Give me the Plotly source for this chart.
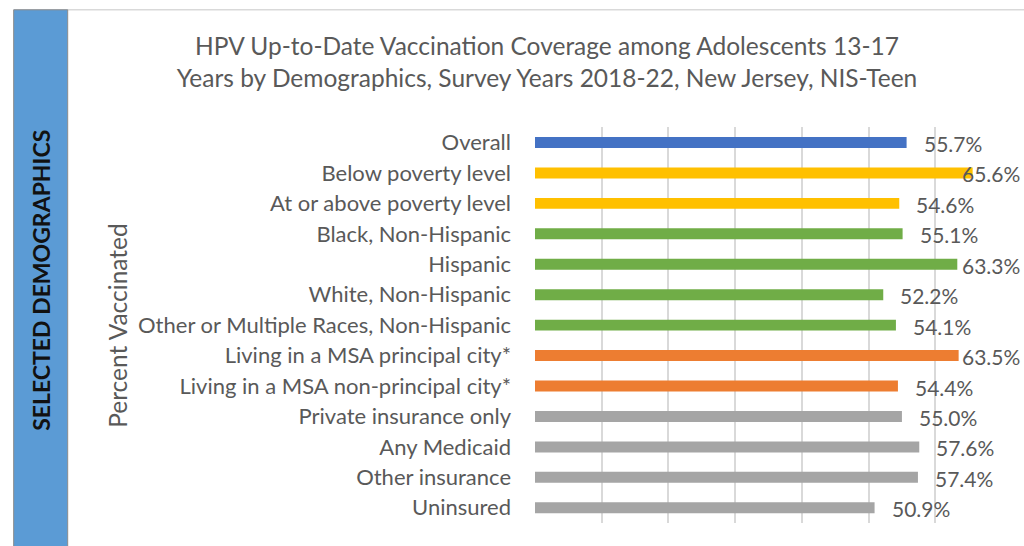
import plotly.graph_objects as go

categories = [
    "Overall",
    "Below poverty level",
    "At or above poverty level",
    "Black, Non-Hispanic",
    "Hispanic",
    "White, Non-Hispanic",
    "Other or Multiple Races, Non-Hispanic",
    "Living in a MSA principal city*",
    "Living in a MSA non-principal city*",
    "Private insurance only",
    "Any Medicaid",
    "Other insurance",
    "Uninsured",
]
values = [55.7, 65.6, 54.6, 55.1, 63.3, 52.2, 54.1, 63.5, 54.4, 55.0, 57.6, 57.4, 50.9]
labels = ["55.7%", "65.6%", "54.6%", "55.1%", "63.3%", "52.2%", "54.1%",
          "63.5%", "54.4%", "55.0%", "57.6%", "57.4%", "50.9%"]
groups = ["overall", "poverty", "poverty", "race", "race", "race", "race",
          "msa", "msa", "ins", "ins", "ins", "ins"]
group_colors = {"overall": "#4472C4", "poverty": "#FFC000", "race": "#70AD47",
                "msa": "#ED7D31", "ins": "#A5A5A5"}

title_text = ("HPV Up-to-Date Vaccination Coverage among Adolescents 13-17<br>"
              "Years by Demographics, Survey Years 2018-22, New Jersey, NIS-Teen")

FW, FH = 1024, 546
L, R, T, B = 535, 1001.7, 126.75, 523
FONT = "Lato"
TXT = "#595959"

def px_x(px):
    return (px - L) / (R - L)

def px_y(py):
    return (B - py) / (B - T)

fig = go.Figure()
fig.add_trace(go.Bar(
    x=values, y=categories, orientation="h",
    marker=dict(color=[group_colors[g] for g in groups], line=dict(width=0)),
    width=0.36, hoverinfo="skip",
))

annotations = []
for v, c, lab in zip(values, categories, labels):
    bar_end_px = L + v / 70 * (R - L)
    if bar_end_px + 16 + 62 > FW - 2:
        annotations.append(dict(x=px_x(FW - 2), xref="paper", y=c, yref="y",
                                text=lab, showarrow=False, xanchor="right",
                                yshift=-1, font=dict(size=21, color=TXT, family=FONT)))
    else:
        annotations.append(dict(x=v, xref="x", y=c, yref="y", text=lab,
                                showarrow=False, xanchor="left", xshift=15,
                                yshift=-1, font=dict(size=21, color=TXT, family=FONT)))

annotations.append(dict(x=px_x(41), y=px_y(280), xref="paper", yref="paper",
                        xanchor="center", yanchor="middle",
                        text="<b>SELECTED DEMOGRAPHICS</b>", textangle=-90,
                        showarrow=False, font=dict(size=23, color="#111111", family=FONT)))
annotations.append(dict(x=px_x(117), y=px_y(325), xref="paper", yref="paper",
                        xanchor="center", yanchor="middle",
                        text="Percent Vaccinated", textangle=-90,
                        showarrow=False, font=dict(size=24.5, color=TXT, family=FONT)))

shapes = [
    dict(type="line", xref="paper", yref="paper", x0=px_x(14), x1=px_x(FW),
         y0=px_y(9.5), y1=px_y(9.5), line=dict(color="#D9D9D9", width=1.5)),
    dict(type="rect", xref="paper", yref="paper", x0=px_x(14), x1=px_x(68),
         y0=px_y(9.5), y1=px_y(FH + 2), fillcolor="#5B9BD5",
         line=dict(color="#8C8C8C", width=1)),
]

fig.update_layout(
    width=FW, height=FH,
    margin=dict(l=L, r=FW - R, t=T, b=FH - B, pad=0),
    paper_bgcolor="white", plot_bgcolor="white",
    showlegend=False,
    bargap=0.64,
    title=dict(text=title_text, x=547 / FW, xanchor="center", y=1 - 55 / FH,
               yanchor="top", font=dict(size=24.5, color=TXT, family=FONT)),
    xaxis=dict(range=[0, 70], dtick=10, showticklabels=False, showgrid=True,
               gridcolor="#D9D9D9", gridwidth=2, zeroline=False, fixedrange=True),
    yaxis=dict(autorange="reversed", showgrid=False, ticks="", ticklabelstandoff=23,
               tickfont=dict(size=22, color=TXT, family=FONT), fixedrange=True),
    annotations=annotations,
    shapes=shapes,
)

fig.write_html("out.html", config={"displayModeBar": False},
               post_script="document.body.style.margin='0px';")
